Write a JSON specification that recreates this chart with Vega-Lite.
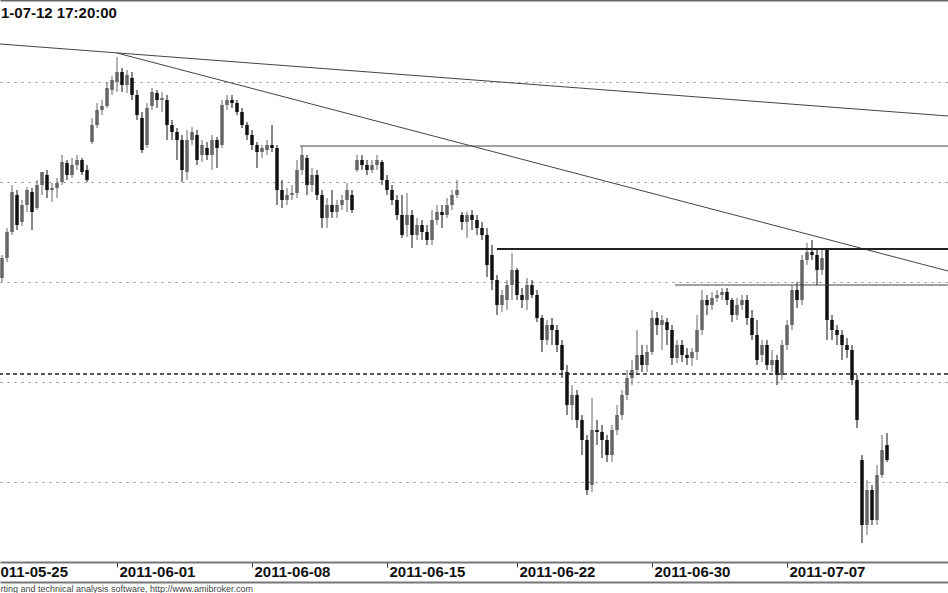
{
  "$schema": "https://vega.github.io/schema/vega-lite/v6.json",
  "width": 948,
  "height": 562,
  "padding": {"top": 0, "left": 0, "right": 0, "bottom": 31},
  "autosize": {"type": "none"},
  "background": "white",
  "config": {"view": {"stroke": null}},
  "title": {"text": "1-07-12 17:20:00", "anchor": "start", "frame": "group", "offset": -21, "font": "Liberation Sans", "fontSize": 15, "fontWeight": "bold", "color": "#111111", "dx": 1},
  "data": {"values": [
    {"i":0,"o":304,"h":327,"l":300,"c":324},
    {"i":1,"o":324,"h":354,"l":320,"c":350},
    {"i":2,"o":350,"h":397,"l":347,"c":390},
    {"i":3,"o":387,"h":392,"l":352,"c":357},
    {"i":4,"o":360,"h":382,"l":356,"c":377},
    {"i":5,"o":377,"h":395,"l":370,"c":392},
    {"i":6,"o":390,"h":394,"l":352,"c":370},
    {"i":7,"o":374,"h":402,"l":372,"c":397},
    {"i":8,"o":397,"h":410,"l":387,"c":410},
    {"i":9,"o":407,"h":412,"l":384,"c":392},
    {"i":10,"o":392,"h":399,"l":380,"c":394},
    {"i":11,"o":394,"h":404,"l":384,"c":399},
    {"i":12,"o":400,"h":427,"l":397,"c":420},
    {"i":13,"o":419,"h":422,"l":402,"c":407},
    {"i":14,"o":407,"h":424,"l":404,"c":417},
    {"i":15,"o":417,"h":427,"l":412,"c":422},
    {"i":16,"o":422,"h":424,"l":407,"c":410},
    {"i":17,"o":412,"h":417,"l":400,"c":402},
    {"i":18,"o":440,"h":464,"l":438,"c":457},
    {"i":19,"o":457,"h":479,"l":454,"c":472},
    {"i":20,"o":472,"h":482,"l":467,"c":476},
    {"i":21,"o":476,"h":500,"l":474,"c":494},
    {"i":22,"o":492,"h":506,"l":487,"c":502},
    {"i":23,"o":500,"h":525,"l":490,"c":510},
    {"i":24,"o":510,"h":514,"l":490,"c":497},
    {"i":25,"o":497,"h":512,"l":489,"c":507},
    {"i":26,"o":504,"h":510,"l":482,"c":487},
    {"i":27,"o":487,"h":492,"l":462,"c":467},
    {"i":28,"o":464,"h":470,"l":429,"c":432},
    {"i":29,"o":437,"h":479,"l":434,"c":474},
    {"i":30,"o":476,"h":494,"l":472,"c":490},
    {"i":31,"o":489,"h":492,"l":474,"c":482},
    {"i":32,"o":482,"h":490,"l":470,"c":484},
    {"i":33,"o":482,"h":487,"l":442,"c":457},
    {"i":34,"o":457,"h":462,"l":442,"c":450},
    {"i":35,"o":450,"h":454,"l":422,"c":442},
    {"i":36,"o":442,"h":447,"l":400,"c":412},
    {"i":37,"o":410,"h":452,"l":402,"c":442},
    {"i":38,"o":442,"h":455,"l":437,"c":450},
    {"i":39,"o":447,"h":452,"l":417,"c":422},
    {"i":40,"o":427,"h":442,"l":420,"c":437},
    {"i":41,"o":434,"h":440,"l":422,"c":427},
    {"i":42,"o":427,"h":447,"l":412,"c":442},
    {"i":43,"o":442,"h":445,"l":414,"c":434},
    {"i":44,"o":437,"h":482,"l":434,"c":477},
    {"i":45,"o":477,"h":487,"l":472,"c":482},
    {"i":46,"o":482,"h":487,"l":474,"c":479},
    {"i":47,"o":479,"h":482,"l":467,"c":470},
    {"i":48,"o":470,"h":474,"l":454,"c":457},
    {"i":49,"o":457,"h":460,"l":442,"c":447},
    {"i":50,"o":447,"h":452,"l":432,"c":437},
    {"i":51,"o":437,"h":440,"l":414,"c":430},
    {"i":52,"o":430,"h":437,"l":424,"c":434},
    {"i":53,"o":432,"h":442,"l":427,"c":437},
    {"i":54,"o":437,"h":457,"l":430,"c":434},
    {"i":55,"o":434,"h":437,"l":377,"c":392},
    {"i":56,"o":392,"h":402,"l":374,"c":382},
    {"i":57,"o":382,"h":394,"l":377,"c":387},
    {"i":58,"o":387,"h":397,"l":382,"c":389},
    {"i":59,"o":389,"h":422,"l":384,"c":412},
    {"i":60,"o":412,"h":436,"l":407,"c":427},
    {"i":61,"o":424,"h":427,"l":387,"c":397},
    {"i":62,"o":397,"h":414,"l":390,"c":407},
    {"i":63,"o":407,"h":412,"l":382,"c":387},
    {"i":64,"o":387,"h":392,"l":354,"c":364},
    {"i":65,"o":364,"h":384,"l":354,"c":377},
    {"i":66,"o":377,"h":392,"l":364,"c":370},
    {"i":67,"o":370,"h":382,"l":364,"c":377},
    {"i":68,"o":377,"h":387,"l":372,"c":382},
    {"i":69,"o":382,"h":399,"l":370,"c":392},
    {"i":70,"o":387,"h":392,"l":369,"c":372},
    {"i":71,"o":412,"h":427,"l":410,"c":422},
    {"i":72,"o":422,"h":427,"l":412,"c":417},
    {"i":73,"o":417,"h":422,"l":407,"c":412},
    {"i":74,"o":412,"h":422,"l":409,"c":417},
    {"i":75,"o":417,"h":427,"l":412,"c":422},
    {"i":76,"o":420,"h":422,"l":397,"c":402},
    {"i":77,"o":402,"h":407,"l":387,"c":392},
    {"i":78,"o":392,"h":397,"l":377,"c":382},
    {"i":79,"o":382,"h":387,"l":362,"c":367},
    {"i":80,"o":367,"h":387,"l":344,"c":347},
    {"i":81,"o":357,"h":389,"l":345,"c":367},
    {"i":82,"o":367,"h":372,"l":334,"c":347},
    {"i":83,"o":347,"h":364,"l":342,"c":357},
    {"i":84,"o":357,"h":362,"l":342,"c":350},
    {"i":85,"o":350,"h":357,"l":337,"c":342},
    {"i":86,"o":342,"h":372,"l":337,"c":362},
    {"i":87,"o":362,"h":377,"l":357,"c":370},
    {"i":88,"o":370,"h":377,"l":354,"c":367},
    {"i":89,"o":367,"h":384,"l":364,"c":377},
    {"i":90,"o":377,"h":392,"l":372,"c":387},
    {"i":91,"o":387,"h":402,"l":384,"c":392},
    {"i":92,"o":367,"h":370,"l":352,"c":360},
    {"i":93,"o":360,"h":370,"l":344,"c":367},
    {"i":94,"o":367,"h":372,"l":352,"c":362},
    {"i":95,"o":362,"h":367,"l":347,"c":354},
    {"i":96,"o":354,"h":360,"l":342,"c":347},
    {"i":97,"o":347,"h":354,"l":305,"c":317},
    {"i":98,"o":327,"h":337,"l":292,"c":302},
    {"i":99,"o":302,"h":307,"l":267,"c":277},
    {"i":100,"o":277,"h":292,"l":270,"c":287},
    {"i":101,"o":282,"h":302,"l":272,"c":297},
    {"i":102,"o":297,"h":329,"l":282,"c":312},
    {"i":103,"o":312,"h":314,"l":282,"c":287},
    {"i":104,"o":287,"h":294,"l":274,"c":282},
    {"i":105,"o":282,"h":304,"l":272,"c":297},
    {"i":106,"o":297,"h":302,"l":284,"c":287},
    {"i":107,"o":287,"h":292,"l":260,"c":264},
    {"i":108,"o":264,"h":267,"l":230,"c":242},
    {"i":109,"o":242,"h":262,"l":237,"c":257},
    {"i":110,"o":257,"h":264,"l":237,"c":252},
    {"i":111,"o":252,"h":257,"l":230,"c":237},
    {"i":112,"o":237,"h":242,"l":204,"c":212},
    {"i":113,"o":210,"h":217,"l":167,"c":177},
    {"i":114,"o":177,"h":197,"l":162,"c":187},
    {"i":115,"o":187,"h":192,"l":154,"c":162},
    {"i":116,"o":162,"h":167,"l":127,"c":142},
    {"i":117,"o":142,"h":147,"l":87,"c":92},
    {"i":118,"o":97,"h":184,"l":90,"c":152},
    {"i":119,"o":152,"h":162,"l":137,"c":150},
    {"i":120,"o":150,"h":157,"l":124,"c":142},
    {"i":121,"o":142,"h":147,"l":120,"c":127},
    {"i":122,"o":127,"h":157,"l":120,"c":152},
    {"i":123,"o":152,"h":177,"l":147,"c":167},
    {"i":124,"o":167,"h":192,"l":162,"c":187},
    {"i":125,"o":187,"h":212,"l":182,"c":204},
    {"i":126,"o":204,"h":222,"l":197,"c":212},
    {"i":127,"o":212,"h":252,"l":207,"c":227},
    {"i":128,"o":227,"h":237,"l":210,"c":217},
    {"i":129,"o":217,"h":237,"l":210,"c":230},
    {"i":130,"o":230,"h":272,"l":227,"c":264},
    {"i":131,"o":264,"h":270,"l":247,"c":257},
    {"i":132,"o":257,"h":267,"l":232,"c":262},
    {"i":133,"o":260,"h":264,"l":237,"c":252},
    {"i":134,"o":252,"h":257,"l":217,"c":224},
    {"i":135,"o":224,"h":242,"l":219,"c":237},
    {"i":136,"o":237,"h":242,"l":220,"c":227},
    {"i":137,"o":227,"h":234,"l":217,"c":224},
    {"i":138,"o":224,"h":234,"l":216,"c":230},
    {"i":139,"o":230,"h":267,"l":222,"c":252},
    {"i":140,"o":252,"h":292,"l":247,"c":282},
    {"i":141,"o":282,"h":287,"l":267,"c":277},
    {"i":142,"o":277,"h":290,"l":272,"c":284},
    {"i":143,"o":284,"h":292,"l":280,"c":287},
    {"i":144,"o":287,"h":294,"l":282,"c":290},
    {"i":145,"o":290,"h":294,"l":277,"c":282},
    {"i":146,"o":282,"h":284,"l":260,"c":267},
    {"i":147,"o":267,"h":284,"l":262,"c":277},
    {"i":148,"o":277,"h":287,"l":272,"c":282},
    {"i":149,"o":282,"h":287,"l":257,"c":264},
    {"i":150,"o":264,"h":272,"l":242,"c":247},
    {"i":151,"o":247,"h":262,"l":217,"c":222},
    {"i":152,"o":227,"h":242,"l":220,"c":237},
    {"i":153,"o":237,"h":242,"l":212,"c":217},
    {"i":154,"o":217,"h":232,"l":210,"c":222},
    {"i":155,"o":222,"h":227,"l":197,"c":207},
    {"i":156,"o":207,"h":242,"l":202,"c":237},
    {"i":157,"o":237,"h":262,"l":232,"c":257},
    {"i":158,"o":257,"h":297,"l":252,"c":292},
    {"i":159,"o":292,"h":300,"l":274,"c":282},
    {"i":160,"o":282,"h":327,"l":277,"c":322},
    {"i":161,"o":322,"h":339,"l":317,"c":330},
    {"i":162,"o":330,"h":342,"l":322,"c":327},
    {"i":163,"o":327,"h":332,"l":297,"c":312},
    {"i":164,"o":312,"h":332,"l":307,"c":324},
    {"i":165,"o":332,"h":334,"l":242,"c":262},
    {"i":166,"o":262,"h":267,"l":242,"c":252},
    {"i":167,"o":252,"h":257,"l":237,"c":247},
    {"i":168,"o":247,"h":252,"l":222,"c":237},
    {"i":169,"o":237,"h":244,"l":224,"c":232},
    {"i":170,"o":232,"h":237,"l":197,"c":202},
    {"i":171,"o":202,"h":207,"l":154,"c":162},
    {"i":172,"o":122,"h":127,"l":39,"c":57},
    {"i":173,"o":57,"h":102,"l":47,"c":92},
    {"i":174,"o":92,"h":97,"l":57,"c":62},
    {"i":175,"o":62,"h":117,"l":57,"c":107},
    {"i":176,"o":107,"h":147,"l":104,"c":132},
    {"i":177,"o":137,"h":149,"l":120,"c":122}
  ]},
  "resolve": {"axis": {"x": "independent"}},
  "layer": [
    {
      "mark": {"type": "rule", "strokeWidth": 1},
      "encoding": {
        "x": {"field": "i", "type": "quantitative", "scale": {"domain": [-0.4, 189.2], "nice": false, "zero": false, "padding": 0},
          "axis": {"orient": "bottom", "values": [-0.4, 23, 50, 77, 103, 130, 157],
            "labelExpr": "datum.value < 1 ? '011-05-25' : datum.value < 30 ? '2011-06-01' : datum.value < 60 ? '2011-06-08' : datum.value < 90 ? '2011-06-15' : datum.value < 110 ? '2011-06-22' : datum.value < 140 ? '2011-06-30' : '2011-07-07'",
            "domainColor": "#777777", "domainWidth": 2, "tickColor": "#333333", "tickSize": 5, "tickWidth": 1,
            "tickOpacity": {"condition": {"test": "datum.value < 1", "value": 0}, "value": 1},
            "labelAlign": "left", "labelBaseline": "top", "labelPadding": -3,
            "labelOffset": {"condition": {"test": "datum.value < 1", "value": 0}, "value": 2},
            "labelFlush": false, "labelOverlap": false, "labelBound": false, "grid": false, "title": null,
            "labelFont": "Liberation Sans", "labelFontSize": 15, "labelFontWeight": "bold", "labelColor": "#111111"}},
        "y": {"field": "l", "type": "quantitative", "scale": {"domain": [20, 582], "nice": false, "zero": false},
          "axis": {"orient": "left", "values": [100, 200, 300, 400, 500], "labels": false, "ticks": false, "domain": false, "grid": true, "gridDash": [2, 5], "gridColor": "#8a8a8a", "gridWidth": 1, "title": null}},
        "y2": {"field": "h"},
        "color": {"condition": {"test": "datum.c >= datum.o", "value": "#666666"}, "value": "#111111"}
      }
    },
    {
      "mark": {"type": "bar", "size": 3.5},
      "encoding": {
        "x": {"field": "i", "type": "quantitative", "scale": {"domain": [-0.4, 189.2], "nice": false, "zero": false, "padding": 0}, "axis": null},
        "y": {"field": "o", "type": "quantitative", "scale": {"domain": [20, 582], "nice": false, "zero": false}, "title": null},
        "y2": {"field": "c"},
        "color": {"condition": {"test": "datum.c >= datum.o", "value": "#666666"}, "value": "#111111"}
      }
    },
    {
      "data": {"values": [
        {"x1": -0.4, "x2": 189.2, "y1": 538, "y2": 466},
        {"x1": 23, "x2": 189.2, "y1": 529, "y2": 311},
        {"x1": 59.6, "x2": 189.2, "y1": 436, "y2": 436},
        {"x1": 134.6, "x2": 189.2, "y1": 297, "y2": 297}
      ]},
      "mark": {"type": "rule", "strokeWidth": 1, "color": "#444444", "clip": true},
      "encoding": {
        "x": {"field": "x1", "type": "quantitative", "scale": {"domain": [-0.4, 189.2], "nice": false, "zero": false, "padding": 0},
          "axis": {"orient": "bottom", "offset": 20, "domainColor": "#777777", "domainWidth": 2, "ticks": false, "labels": false, "grid": false,
            "title": "rting and technical analysis software, http://www.amibroker.com", "titleAnchor": "start", "titleAlign": "left", "titleBaseline": "top", "titlePadding": 2,
            "titleFont": "Liberation Sans", "titleFontSize": 9, "titleFontWeight": "normal", "titleColor": "#444444"}},
        "x2": {"field": "x2"},
        "y": {"field": "y1", "type": "quantitative", "scale": {"domain": [20, 582], "nice": false, "zero": false}, "title": null},
        "y2": {"field": "y2"}
      }
    },
    {
      "data": {"values": [{"x1": 99, "x2": 189.2, "p": 333}]},
      "mark": {"type": "rule", "strokeWidth": 2, "color": "#222222", "clip": true},
      "encoding": {
        "x": {"field": "x1", "type": "quantitative", "scale": {"domain": [-0.4, 189.2], "nice": false, "zero": false, "padding": 0},
          "axis": {"orient": "top", "domainColor": "#666666", "domainWidth": 2, "ticks": false, "labels": false, "grid": false, "title": null}},
        "x2": {"field": "x2"},
        "y": {"field": "p", "type": "quantitative", "scale": {"domain": [20, 582], "nice": false, "zero": false}, "title": null}
      }
    },
    {
      "data": {"values": [{"p": 208}]},
      "mark": {"type": "rule", "strokeWidth": 1.5, "color": "#222222", "strokeDash": [4, 3]},
      "encoding": {
        "y": {"field": "p", "type": "quantitative", "scale": {"domain": [20, 582], "nice": false, "zero": false}, "title": null}
      }
    }
  ]
}
